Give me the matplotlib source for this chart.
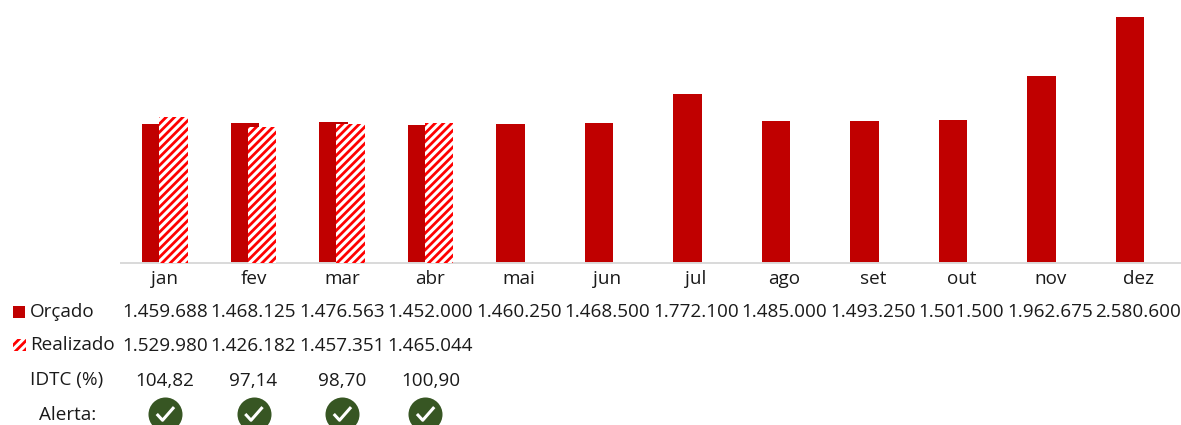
import numpy as np
import matplotlib.pyplot as plt
from matplotlib.patches import Rectangle
from matplotlib.path import Path

plt.rcParams['font.family'] = 'Open Sans'
plt.rcParams['hatch.linewidth'] = 2.0

months = ['jan', 'fev', 'mar', 'abr', 'mai', 'jun', 'jul', 'ago', 'set', 'out', 'nov', 'dez']
orcado = [1459688, 1468125, 1476563, 1452000, 1460250, 1468500, 1772100, 1485000,
          1493250, 1501500, 1962675, 2580600]
realizado = [1529980, 1426182, 1457351, 1465044]
idtc = ['104,82', '97,14', '98,70', '100,90']
alert_x = [0, 1, 2, 2.94]

W, H = 1181, 425
dark_red = '#C00000'
text_col = '#1A1A1A'
green = '#375623'
fs = 13.55


def fmt(v):
    return f'{v:,}'.replace(',', '.')


fig = plt.figure(figsize=(W / 100, H / 100), dpi=100)
# chart area in pixels: x 121-1181, y 0-263
ax = fig.add_axes([121 / W, 1 - 263 / H, (W - 121) / W, 263 / H])
x0 = (121 - 165) / 88.5
x1 = (W - 165) / 88.5
ax.set_xlim(x0, x1)
ax.set_ylim(0, 263 * 10490)

x = np.arange(len(months))
bar_w = 28.5 / 88.5
off = 8.5 / 88.5
ax.bar(x - off, orcado, bar_w, color=dark_red, linewidth=0, zorder=2)
ax.bar(np.arange(len(realizado)) + off, realizado, bar_w, facecolor='white',
       edgecolor='#FF0000', hatch='////', linewidth=0, zorder=3)

for s in ['top', 'left', 'right']:
    ax.spines[s].set_visible(False)
ax.spines['bottom'].set_color('#D9D9D9')
ax.spines['bottom'].set_linewidth(1.4)
ax.set_yticks([])
ax.set_xticks(x, months)
ax.tick_params(axis='x', length=0, pad=5, labelsize=fs, labelcolor=text_col)

# table under the chart, same x scale as the bars, y in figure pixels
tr = ax.get_xaxis_transform()
def row_y(py):
    return (263 - py) / 263

for i, v in enumerate(orcado):
    ax.text(i, row_y(312), fmt(v), transform=tr, ha='center', va='center',
            fontsize=fs, color=text_col, clip_on=False)
for i, v in enumerate(realizado):
    ax.text(i, row_y(346), fmt(v), transform=tr, ha='center', va='center',
            fontsize=fs, color=text_col, clip_on=False)
for i, v in enumerate(idtc):
    ax.text(i, row_y(381), v, transform=tr, ha='center', va='center',
            fontsize=fs, color=text_col, clip_on=False)

check = Path([(-0.5, 0.0), (-0.15, -0.38), (0.55, 0.42)], [Path.MOVETO, Path.LINETO, Path.LINETO])
alert_row = [row_y(414)] * len(alert_x)
ax.scatter(alert_x, alert_row, s=600, color=green, linewidth=0, transform=tr, clip_on=False, zorder=4)
ax.scatter(alert_x, alert_row, s=170, marker=check, facecolor='none', edgecolor='white',
           linewidth=2.2, transform=tr, clip_on=False, zorder=5)

# row labels
fig.text(30 / W, 1 - 312 / H, 'Orçado', ha='left', va='center', fontsize=fs, color=text_col)
fig.text(30 / W, 1 - 345 / H, 'Realizado', ha='left', va='center', fontsize=fs, color=text_col)
fig.text(30 / W, 1 - 380 / H, 'IDTC (%)', ha='left', va='center', fontsize=fs, color=text_col)
fig.text(39 / W, 1 - 415 / H, 'Alerta:', ha='left', va='center', fontsize=fs, color=text_col)

# legend keys
fig.add_artist(Rectangle((13 / W, 1 - 318 / H), 12 / W, 12 / H, transform=fig.transFigure,
                         facecolor=dark_red, linewidth=0))
fig.add_artist(Rectangle((13 / W, 1 - 351 / H), 13 / W, 12 / H, transform=fig.transFigure,
                         facecolor='white', edgecolor='#FF0000', hatch='////', linewidth=0))

fig.savefig('out.png', dpi=100)
